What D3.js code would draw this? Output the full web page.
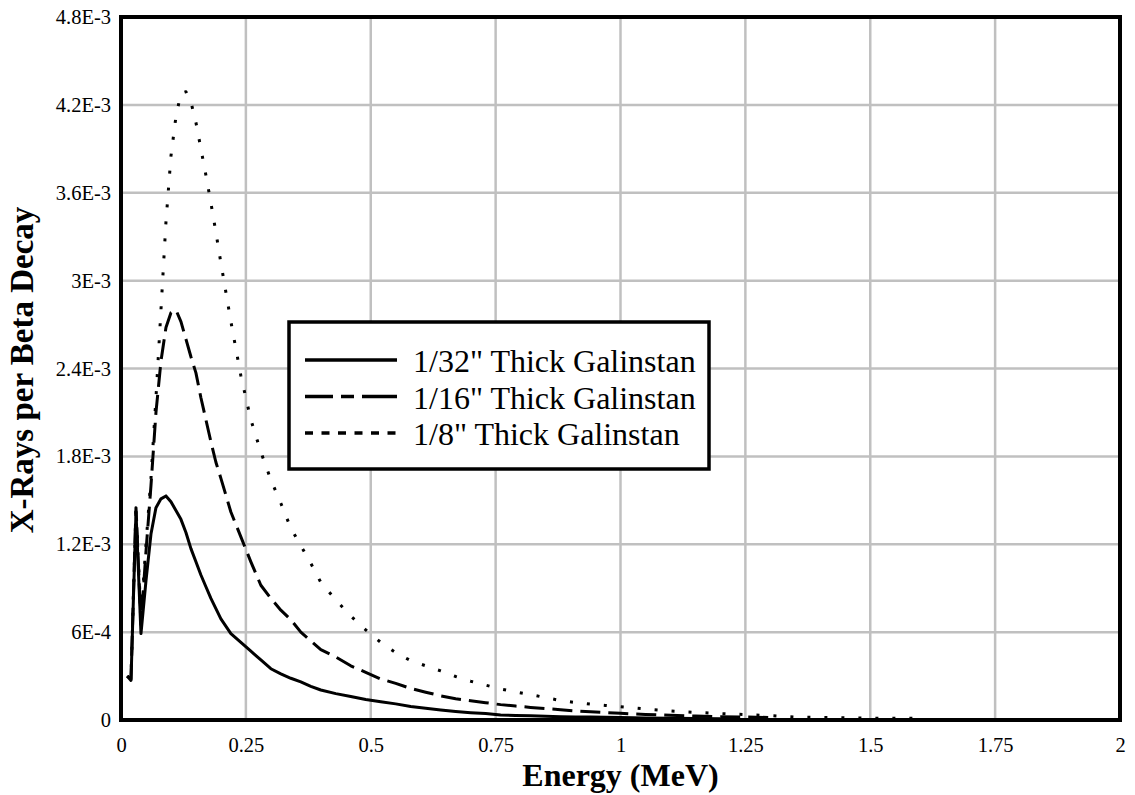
<!DOCTYPE html>
<html>
<head>
<meta charset="utf-8">
<script src="https://cdn.jsdelivr.net/npm/d3@7"></script>
<style>
  body { margin: 0; background: #fff; }
  text { font-family: "Liberation Serif", "Times New Roman", serif; fill: #000; }
</style>
</head>
<body>
<div id="chart"></div>
<script>

// energy grid (MeV), shared by all three series; shorter series stop early
const energy = [0.0125, 0.02, 0.03, 0.04, 0.05, 0.06, 0.07, 0.08, 0.09, 0.10,
    0.11, 0.12, 0.13, 0.14, 0.15, 0.16, 0.17, 0.18, 0.19, 0.20,
    0.22, 0.24, 0.26, 0.28, 0.30, 0.32, 0.34, 0.36, 0.38, 0.40,
    0.43, 0.46, 0.49, 0.52, 0.55, 0.58, 0.61, 0.64, 0.67, 0.70,
    0.73, 0.76, 0.79, 0.82, 0.85, 0.88, 0.91, 0.94, 0.97, 1.00,
    1.05, 1.10, 1.15, 1.20, 1.25, 1.30, 1.35, 1.40, 1.45, 1.50, 1.55, 1.60];

// 1/32" thick
const thin = [3.0e-4, 2.7e-4, 1.42e-3, 5.9e-4, 9.5e-4, 1.27e-3, 1.45e-3, 1.51e-3, 1.53e-3, 1.49e-3,
    1.43e-3, 1.37e-3, 1.28e-3, 1.17e-3, 1.08e-3, 9.9e-4, 9.1e-4, 8.3e-4, 7.6e-4, 6.9e-4,
    5.9e-4, 5.3e-4, 4.7e-4, 4.1e-4, 3.5e-4, 3.15e-4, 2.85e-4, 2.6e-4, 2.3e-4, 2.05e-4,
    1.8e-4, 1.6e-4, 1.4e-4, 1.25e-4, 1.1e-4, 9.2e-5, 8.0e-5, 6.8e-5, 5.8e-5, 5.0e-5,
    4.4e-5, 3.4e-5, 3.1e-5, 2.9e-5, 2.6e-5, 2.3e-5, 2.1e-5, 2.0e-5, 1.8e-5, 1.7e-5,
    1.4e-5, 1.2e-5, 1.0e-5, 8e-6];

// 1/16" thick
const mid = [3.0e-4, 2.8e-4, 1.45e-3, 6.5e-4, 1.15e-3, 1.6e-3, 2.1e-3, 2.45e-3, 2.68e-3, 2.78e-3,
    2.8e-3, 2.72e-3, 2.6e-3, 2.48e-3, 2.37e-3, 2.2e-3, 2.05e-3, 1.9e-3, 1.76e-3, 1.65e-3,
    1.42e-3, 1.25e-3, 1.08e-3, 9.2e-4, 8.3e-4, 7.5e-4, 6.85e-4, 6.0e-4, 5.4e-4, 4.8e-4,
    4.3e-4, 3.7e-4, 3.25e-4, 2.8e-4, 2.5e-4, 2.15e-4, 1.9e-4, 1.65e-4, 1.45e-4, 1.32e-4,
    1.18e-4, 1.05e-4, 9.5e-5, 8.6e-5, 7.8e-5, 7.0e-5, 6.2e-5, 5.6e-5, 5.1e-5, 4.6e-5,
    3.8e-5, 3.2e-5, 2.7e-5, 2.3e-5, 2.0e-5, 1.7e-5];

// 1/8" thick
const thick = [3.0e-4, 2.8e-4, 1.45e-3, 7.0e-4, 1.2e-3, 1.65e-3, 2.2e-3, 2.8e-3, 3.4e-3, 3.85e-3,
    4.12e-3, 4.28e-3, 4.29e-3, 4.22e-3, 4.08e-3, 3.9e-3, 3.72e-3, 3.53e-3, 3.33e-3, 3.12e-3,
    2.72e-3, 2.35e-3, 2.05e-3, 1.83e-3, 1.64e-3, 1.48e-3, 1.31e-3, 1.19e-3, 1.07e-3, 9.4e-4,
    8.2e-4, 7.1e-4, 6.15e-4, 5.3e-4, 4.6e-4, 4.05e-4, 3.7e-4, 3.35e-4, 2.97e-4, 2.65e-4,
    2.38e-4, 2.12e-4, 1.92e-4, 1.73e-4, 1.53e-4, 1.33e-4, 1.19e-4, 1.08e-4, 9.9e-5, 9.0e-5,
    7.5e-5, 6.2e-5, 5.2e-5, 4.4e-5, 3.7e-5, 3.0e-5, 2.0e-5, 1.7e-5, 1.5e-5, 1.3e-5, 1.2e-5, 1.1e-5];

const seriesNames = ['1/32" Thick Galinstan', '1/16" Thick Galinstan', '1/8" Thick Galinstan'];

const xTicks = [0, 0.25, 0.5, 0.75, 1, 1.25, 1.5, 1.75, 2];
const xTickLabels = ['0', '0.25', '0.5', '0.75', '1', '1.25', '1.5', '1.75', '2'];
const yTicks = [0, 6e-4, 1.2e-3, 1.8e-3, 2.4e-3, 3e-3, 3.6e-3, 4.2e-3, 4.8e-3];
const yTickLabels = ['0', '6E-4', '1.2E-3', '1.8E-3', '2.4E-3', '3E-3', '3.6E-3', '4.2E-3', '4.8E-3'];


let margin = {top:17, right:15, bottom:75, left:121};
let width = 1135 - margin.left - margin.right;
let height = 795 - margin.top - margin.bottom;

const svg = d3.select('#chart')
    .append('svg')
    .attr('width', width + margin.left + margin.right)
    .attr('height', height + margin.top + margin.bottom)
    .append('g')
    .attr('transform', `translate(${margin.left},${margin.top})`);

var x = d3.scaleLinear()
    .domain([0, 2])
    .range([0, width]);

var y = d3.scaleLinear()
    .domain([0, 4.8e-3])
    .range([height, 0]);

// grid
svg.append('g')
    .selectAll('line')
    .data(xTicks)
    .enter().append('line')
    .attr('x1', d => x(d)).attr('x2', d => x(d))
    .attr('y1', 0).attr('y2', height)
    .attr('stroke', '#c0c0c0')
    .attr('stroke-width', 2.5);

svg.append('g')
    .selectAll('line')
    .data(yTicks)
    .enter().append('line')
    .attr('x1', 0).attr('x2', width)
    .attr('y1', d => y(d)).attr('y2', d => y(d))
    .attr('stroke', '#c0c0c0')
    .attr('stroke-width', 2.5);

// axes (labels only)
const xAxis = d3.axisBottom(x)
    .tickValues(xTicks)
    .tickFormat((d, i) => xTickLabels[i])
    .tickSize(0)
    .tickPadding(17);

const yAxis = d3.axisLeft(y)
    .tickValues(yTicks)
    .tickFormat((d, i) => yTickLabels[i])
    .tickSize(0)
    .tickPadding(10);

svg.append('g')
    .attr('transform', `translate(0,${height})`)
    .call(xAxis)
    .call(g => g.select('.domain').remove())
    .selectAll('text')
    .style('font-family', '"Liberation Serif", serif')
    .style('font-size', '20.5px');

svg.append('g')
    .call(yAxis)
    .call(g => g.select('.domain').remove())
    .selectAll('text')
    .style('font-family', '"Liberation Serif", serif')
    .style('font-size', '20.5px');

// curves
const line = d3.line()
    .x(d => x(d[0]))
    .y(d => y(d[1]));

const series = [
    {vals: thin, dash: null},
    {vals: mid, dash: '20,8'},
    {vals: thick, dash: '3,14'}
];

series.forEach(s => {
    const pts = s.vals.map((v, i) => [energy[i], v]);
    svg.append('path')
        .datum(pts)
        .attr('fill', 'none')
        .attr('stroke', '#000')
        .attr('stroke-width', 3)
        .attr('stroke-linejoin', 'round')
        .attr('stroke-dasharray', s.dash)
        .attr('d', line);
});

// frame
svg.append('rect')
    .attr('x', 0).attr('y', 0)
    .attr('width', width).attr('height', height)
    .attr('fill', 'none')
    .attr('stroke', '#000')
    .attr('stroke-width', 4);

// legend
const legend = svg.append('g')
    .attr('transform', `translate(${289 - margin.left},${322 - margin.top})`);

legend.append('rect')
    .attr('width', 420).attr('height', 147)
    .attr('fill', '#fff')
    .attr('stroke', '#000')
    .attr('stroke-width', 3.5);

const legendDash = [null, '28,8,13,8,35', '8,8.5'];

seriesNames.forEach((name, i) => {
    const ly = 38 + i * 36.5;
    legend.append('line')
        .attr('x1', 16).attr('x2', 108)
        .attr('y1', ly).attr('y2', ly)
        .attr('stroke', '#000')
        .attr('stroke-width', 3.5)
        .attr('stroke-dasharray', legendDash[i]);
    legend.append('text')
        .attr('x', 124)
        .attr('y', ly + 12)
        .attr('font-size', '32px')
        .text(name);
});

// axis titles
svg.append('text')
    .attr('x', width / 2)
    .attr('y', height + 66)
    .attr('text-anchor', 'middle')
    .attr('font-size', '32px')
    .attr('font-weight', 'bold')
    .text('Energy (MeV)');

svg.append('text')
    .attr('transform', `translate(${33 - margin.left},${370 - margin.top}) rotate(-90)`)
    .attr('text-anchor', 'middle')
    .attr('font-size', '33px')
    .attr('font-weight', 'bold')
    .text('X-Rays per Beta Decay');

</script>
</body>
</html>
